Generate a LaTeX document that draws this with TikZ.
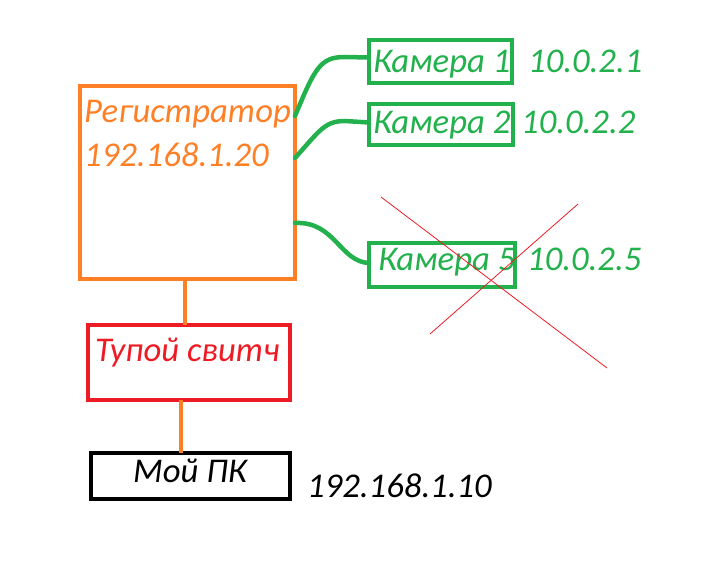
\documentclass[tikz,border=0pt]{standalone}
\usepackage{fontspec}
\setmainfont{Carlito}
\usetikzlibrary{positioning}
\definecolor{paintorange}{HTML}{FF7F27}
\definecolor{paintgreen}{HTML}{22B14C}
\definecolor{paintred}{HTML}{ED1C24}
\newcommand{\paintfont}{\fontsize{34.7pt}{40pt}\selectfont\itshape}
\tikzset{
  box/.style={draw,line width=4.5pt,inner sep=0pt,outer sep=0pt},
  lbl/.style={inner sep=0pt,anchor=base west,font=\paintfont},
  wire/.style={line width=4.5pt,paintgreen,line cap=round},
  uplink/.style={line width=4.5pt,paintorange},
}

\begin{document}
\begin{tikzpicture}[x=1pt,y=-1pt]
\useasboundingbox (0,0) rectangle (705,569);
% boxes
\node[box,paintorange,minimum width=215pt,minimum height=193pt] (reg) at (187.5,182.5) {};
\node[box,paintgreen,minimum width=143pt,minimum height=43pt] (cam1) at (440.5,61.5) {};
\node[box,paintgreen,minimum width=144pt,minimum height=41pt] (cam2) at (441,124.5) {};
\node[box,paintgreen,minimum width=146pt,minimum height=44pt] (cam5) at (442,265) {};
\node[box,paintred,minimum width=202pt,minimum height=75pt] (sw) at (189,362.5) {};
\node[box,black,minimum width=199pt,minimum height=46pt] (pc) at (190.5,476) {};
% texts
\node[lbl,text=paintorange] (regname) at (84,123) {Регистратор};
\node[lbl,text=paintorange] (regip) at (84,167) {192.168.1.20};
\node[lbl,text=paintgreen] (cam1name) at (373,73) {Камера 1};
\node[lbl,text=paintgreen] (cam1ip) at (528,73) {10.0.2.1};
\node[lbl,text=paintgreen] (cam2name) at (373,134) {Камера 2};
\node[lbl,text=paintgreen] (cam2ip) at (521,134) {10.0.2.2};
\node[lbl,text=paintgreen] (cam5name) at (378,271) {Камера 5};
\node[lbl,text=paintgreen] (cam5ip) at (527,271) {10.0.2.5};
\node[lbl,text=paintred] (swname) at (95,362) {Тупой свитч};
\node[lbl] (pcname) at (133,483) {Мой ПК};
\node[lbl] (pcip) at (307,497) {192.168.1.10};
% cables to the cameras
\draw[wire] ([yshift=-30pt]reg.north east) .. controls (315,68) and (320,57) .. (345,57) -- ([yshift=4pt]cam1.west);
\draw[wire] ([yshift=-72pt]reg.north east) .. controls (320,130) and (325,121) .. (345,121) -- ([yshift=2pt]cam2.west);
\draw[wire] ([yshift=56pt]reg.south east) .. controls (335,221) and (340,262) .. ([yshift=2pt]cam5.west);
% cables down to the switch and the PC
\draw[uplink] ([xshift=-2.5pt]reg.south) -- ([xshift=-2.5pt]reg.south |- sw.north);
\draw[uplink] ([xshift=-8pt]sw.south) -- ([xshift=-8pt]sw.south |- pc.north);
% camera 5 is crossed out
\draw[paintred,line width=0.8pt] (381,197) -- (607,368);
\draw[paintred,line width=0.8pt] (578,204) -- (430,334);
\end{tikzpicture}
\end{document}
